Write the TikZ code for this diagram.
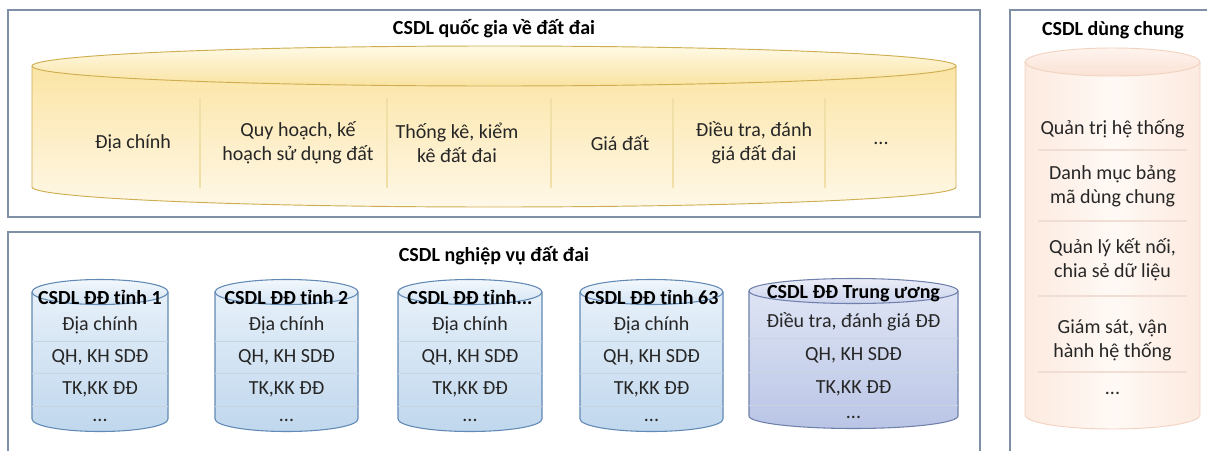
\documentclass[tikz,border=0pt]{standalone}
\usepackage{fontspec}
\setmainfont{Carlito}
\definecolor{framec}{HTML}{7F8FA6}
\definecolor{txtc}{HTML}{262626}
\definecolor{ytopT}{HTML}{FFFAE6}
\definecolor{ytopB}{HTML}{FAE3A2}
\definecolor{ybodyT}{HTML}{FBE4A4}
\definecolor{ybodyB}{HTML}{FFF8E8}
\definecolor{yedge}{HTML}{CFAE50}
\definecolor{ydiv}{HTML}{F1DFA8}
\definecolor{btopT}{HTML}{F3F8FD}
\definecolor{btopB}{HTML}{D4E4F3}
\definecolor{bbodyT}{HTML}{E6F0F9}
\definecolor{bbodyB}{HTML}{C0D7ED}
\definecolor{bedge}{HTML}{6189B5}
\definecolor{bsep}{HTML}{C7D5E3}
\definecolor{ptopT}{HTML}{EBEEF8}
\definecolor{ptopB}{HTML}{CAD2EC}
\definecolor{pbodyT}{HTML}{DEE4F4}
\definecolor{pbodyB}{HTML}{BAC5E6}
\definecolor{pedge}{HTML}{7080AC}
\definecolor{otopT}{HTML}{FEF4EE}
\definecolor{otopB}{HTML}{FAE2D4}
\definecolor{oside}{HTML}{FCEADF}
\definecolor{omid}{HTML}{FFF9F5}
\definecolor{oedge}{HTML}{F2D3C1}
\definecolor{osep}{HTML}{F0DED4}
\newcommand\drawcyl[6]{%
  \pgfmathsetmacro\cylcx{(#1+#2)/2}%
  \pgfmathsetmacro\cylrx{(#2-#1)/2}%
  \shade[body#6] (#1,#3) -- (#1,#4) arc[start angle=180,end angle=0,x radius=\cylrx,y radius=#5] -- (#2,#3) -- cycle;
  \shade[top#6] (\cylcx,#3) ellipse[x radius=\cylrx, y radius=#5];
  \draw[edge#6] (#1,#3) -- (#1,#4) arc[start angle=180,end angle=0,x radius=\cylrx,y radius=#5] -- (#2,#3);
  \draw[edge#6] (\cylcx,#3) ellipse[x radius=\cylrx, y radius=#5];
}
\begin{document}
\begin{tikzpicture}[x=0.75pt,y=-0.75pt,
  txt/.style={font=\fontsize{15}{18}\selectfont, text=txtc, align=center, inner sep=0pt},
  ttl/.style={font=\fontsize{15}{18}\selectfont\bfseries, text=black, align=center, inner sep=0pt},
  frame/.style={draw=framec, line width=1.1pt, fill=white},
  bodyY/.style={top color=ybodyT, bottom color=ybodyB},
  topY/.style={top color=ytopT, bottom color=ytopB},
  edgeY/.style={draw=yedge, line width=0.7pt},
  bodyB/.style={top color=bbodyT, bottom color=bbodyB},
  topB/.style={top color=btopT, bottom color=btopB},
  edgeB/.style={draw=bedge, line width=0.8pt},
  bodyP/.style={top color=pbodyT, bottom color=pbodyB},
  topP/.style={top color=ptopT, bottom color=ptopB},
  edgeP/.style={draw=pedge, line width=0.8pt},
  bodyO/.style={left color=oside, right color=oside, middle color=omid},
  topO/.style={top color=otopT, bottom color=otopB},
  edgeO/.style={draw=oedge, line width=0.7pt},
  ydivline/.style={draw=ydiv, line width=0.8pt},
  bsepline/.style={draw=bsep, line width=0.7pt},
  osepline/.style={draw=osep, line width=0.8pt}]
\clip (0,0) rectangle (1207,450);
\fill[white] (0,0) rectangle (1207,450);

% ---------- frames ----------
\draw[frame] (8,10) rectangle (980,217);
\draw[frame] (8,232) rectangle (980,470);
\draw[frame] (1010,10) rectangle (1220,470);

\node[ttl] (t1) at (494,29) {CSDL quốc gia về đất đai};
\node[ttl] (t2) at (494,256) {CSDL nghiệp vụ đất đai};
\node[ttl] (t3) at (1113,30) {CSDL dùng chung};

% ---------- yellow cylinder ----------
\drawcyl{32}{956}{66}{187}{20}{Y}
\foreach \dx in {200,387,551,673,825}{
  \draw[ydivline] (\dx,98) -- (\dx,188);
}
\node[txt] (y1) at (133,143) {Địa chính};
\node[txt] (y2) at (298,143) {Quy hoạch, kế\\hoạch sử dụng đất};
\node[txt] (y3) at (457,143) {Thống kê, kiểm\\kê đất đai};
\node[txt] (y4) at (620,143) {Giá đất};
\node[txt] (y5) at (754,143) {Điều tra, đánh\\giá đất đai};
\node[txt] (y6) at (881,143) {...};

% ---------- blue cylinders ----------
\foreach \xa/\xb/\nm/\lbl in {32/168/c1/{CSDL ĐĐ tỉnh 1},215/358/c2/{CSDL ĐĐ tỉnh 2},398/542/c3/{CSDL ĐĐ tỉnh...},580/723/c4/{CSDL ĐĐ tỉnh 63}}{
  \drawcyl{\xa}{\xb}{292}{419}{12.5}{B}
  \foreach \sy in {341,373,406}{\draw[bsepline] (\xa,\sy) -- (\xb,\sy);}
  \pgfmathsetmacro\mid{(\xa+\xb)/2}
  \node[ttl] (\nm t) at (\mid,297) {\lbl};
  \node[txt] (\nm a) at (\mid,325) {Địa chính};
  \node[txt] (\nm b) at (\mid,357) {QH, KH SDĐ};
  \node[txt] (\nm c) at (\mid,389) {TK,KK ĐĐ};
  \node[txt] (\nm d) at (\mid,420) {...};
}
\drawcyl{749}{958}{291}{416}{12.5}{P}
\foreach \sy in {338,372,405}{\draw[bsepline] (749,\sy) -- (958,\sy);}
\node[ttl] (c5t) at (853.5,294) {CSDL ĐĐ Trung ương};
\node[txt] (c5a) at (853.5,322) {Điều tra, đánh giá ĐĐ};
\node[txt] (c5b) at (853.5,355) {QH, KH SDĐ};
\node[txt] (c5c) at (853.5,388) {TK,KK ĐĐ};
\node[txt] (c5d) at (853.5,417) {...};

% ---------- orange cylinder ----------
\drawcyl{1025}{1200}{62}{415}{14}{O}
\foreach \sy in {150,221,296,372}{\draw[osepline] (1038,\sy) -- (1187,\sy);}
\node[txt] (o1) at (1112.5,129) {Quản trị hệ thống};
\node[txt] (o2) at (1112.5,186) {Danh mục bảng\\mã dùng chung};
\node[txt] (o3) at (1112.5,260) {Quản lý kết nối,\\chia sẻ dữ liệu};
\node[txt] (o4) at (1112.5,340) {Giám sát, vận\\hành hệ thống};
\node[txt] (o5) at (1112.5,393) {...};
\end{tikzpicture}
\end{document}
